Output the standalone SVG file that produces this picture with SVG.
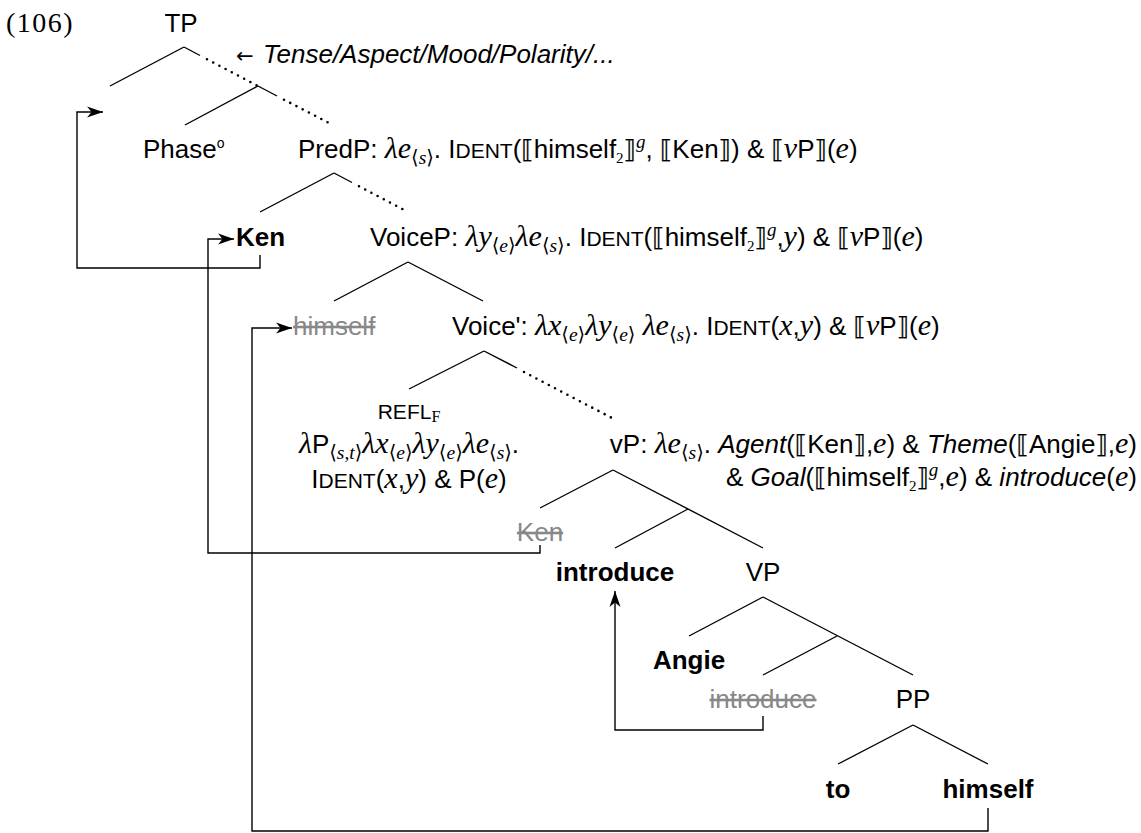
<svg xmlns="http://www.w3.org/2000/svg" width="1141" height="833" viewBox="0 0 1141 833">
<defs>
<style>
.t{font-family:"Liberation Sans",Arial,sans-serif;font-size:26px;fill:#000}
.b{font-weight:bold}
.i{font-style:italic}
.m{font-family:"Liberation Serif","DejaVu Serif","DejaVu Sans",serif;font-style:italic;font-size:30px}
.s{font-family:"Liberation Serif","DejaVu Serif","DejaVu Sans",serif;font-size:19.5px;font-style:normal}
.sm{font-style:italic}
.sup{font-size:19px}
.sc{font-size:21px}
.k{font-family:"DejaVu Sans","DejaVu Serif",sans-serif;font-size:25px;font-weight:normal;font-style:normal;fill:#000;stroke:#000;stroke-width:0.25}
.g{fill:#888;text-decoration:line-through}
.n{text-anchor:middle}
.e{text-anchor:end}
.l{stroke:#000;stroke-width:1.4;fill:none}
.d{stroke:#000;stroke-width:2.6;stroke-dasharray:0 7;stroke-linecap:round;fill:none}
.c{stroke:#000;stroke-width:1.4;fill:none;marker-end:url(#ah)}
</style>
<marker id="ah" viewBox="0 0 16 12" refX="16" refY="6" markerWidth="16" markerHeight="12" orient="auto" markerUnits="userSpaceOnUse"><path d="M0,0.5 L16,6 L0,11.5 L4.5,6 Z" fill="#000"/></marker>
</defs>

<text class="t" x="6" y="32" style="font-family:'Liberation Serif',serif;font-size:28px;letter-spacing:1.5px">(106)</text>

<g id="connectors">
<path class="l" d="M184,47 L110,86"/>
<path class="l" d="M184,47 L200,55.5"/>
<path class="d" d="M207,59.2 L258,86"/>
<path class="l" d="M258,86 L185,125"/>
<path class="l" d="M258,86 L277,96"/>
<path class="d" d="M284,99.7 L333,125"/>
<path class="l" d="M334,173 L260,212"/>
<path class="l" d="M334,173 L352,182.5"/>
<path class="d" d="M359,186.2 L408,212"/>
<path class="l" d="M408,262 L334,301"/>
<path class="l" d="M408,262 L483,301"/>
<path class="l" d="M484,351 L409,389"/>
<path class="l" d="M484,351 L517,368"/>
<path class="d" d="M524,372 L612,418"/>
<path class="l" d="M613,470 L540,508"/>
<path class="l" d="M613,470 L763,548"/>
<path class="l" d="M688,509 L615,548"/>
<path class="l" d="M763,597 L689,636"/>
<path class="l" d="M763,597 L913,675"/>
<path class="l" d="M837,636 L763,675"/>
<path class="l" d="M913,725 L838,764"/>
<path class="l" d="M913,725 L988,764"/>
<path class="c" d="M260,255 V268 H77 V112 H103"/>
<path class="c" d="M540,545 V553 H208 V239 H234"/>
<path class="c" d="M988,808 V831 H252 V328 H292"/>
<path class="c" d="M763,716 V730 H615 V591"/>
</g>

<g id="tp"><text class="t n" x="181" y="32">TP</text></g>

<g id="annotation"><text class="t" x="236" y="63" style="font-family:'DejaVu Sans',sans-serif;font-size:21px">←</text><text class="t i" x="263" y="63">Tense/Aspect/Mood/Polarity/...</text></g>

<g id="phase"><text class="t" x="143" y="158">Phase<tspan style="font-size:14px" dy="-10">o</tspan></text></g>

<g id="predp"><text class="t" x="298" y="158">PredP: <tspan class="m">λe</tspan><tspan class="s" dy="6">⟨<tspan class="sm">s</tspan>⟩</tspan><tspan dy="-6">. I</tspan><tspan class="sc">DENT</tspan>(<tspan class="k">⟦</tspan>himself<tspan class="s" style="font-size:15px" dy="5">2</tspan><tspan class="k" dy="-5">⟧</tspan><tspan class="m sup" dy="-10">g</tspan><tspan dy="10">, </tspan><tspan class="k">⟦</tspan>Ken<tspan class="k">⟧</tspan>) &amp; <tspan class="k">⟦</tspan><tspan class="m">ν</tspan>P<tspan class="k">⟧</tspan>(<tspan class="m">e</tspan>)</text></g>

<g id="ken"><text class="t b" x="236" y="246">Ken</text></g>

<g id="voicep"><text class="t" x="370" y="246">VoiceP: <tspan class="m">λy</tspan><tspan class="s" dy="6">⟨<tspan class="sm">e</tspan>⟩</tspan><tspan class="m" dy="-6">λe</tspan><tspan class="s" dy="6">⟨<tspan class="sm">s</tspan>⟩</tspan><tspan dy="-6">. I</tspan><tspan class="sc">DENT</tspan>(<tspan class="k">⟦</tspan>himself<tspan class="s" style="font-size:15px" dy="5">2</tspan><tspan class="k" dy="-5">⟧</tspan><tspan class="m sup" dy="-10">g</tspan><tspan dy="10">,</tspan><tspan class="m">y</tspan>) &amp; <tspan class="k">⟦</tspan><tspan class="m">ν</tspan>P<tspan class="k">⟧</tspan>(<tspan class="m">e</tspan>)</text></g>

<g id="himself-trace"><text class="t g" x="293" y="335">himself</text></g>

<g id="voicebar"><text class="t" x="452" y="335">Voice': <tspan class="m">λx</tspan><tspan class="s" dy="6">⟨<tspan class="sm">e</tspan>⟩</tspan><tspan class="m" dy="-6">λy</tspan><tspan class="s" dy="6">⟨<tspan class="sm">e</tspan>⟩</tspan><tspan dy="-6"> </tspan><tspan class="m">λe</tspan><tspan class="s" dy="6">⟨<tspan class="sm">s</tspan>⟩</tspan><tspan dy="-6">. I</tspan><tspan class="sc">DENT</tspan>(<tspan class="m">x</tspan>,<tspan class="m">y</tspan>) &amp; <tspan class="k">⟦</tspan><tspan class="m">ν</tspan>P<tspan class="k">⟧</tspan>(<tspan class="m">e</tspan>)</text></g>

<g id="refl">
<text class="t n" x="409" y="419"><tspan style="font-size:21px">REFL</tspan><tspan class="s" style="font-size:16px" dy="3">F</tspan></text>
<text class="t n" x="409" y="453"><tspan class="m">λ</tspan>P<tspan class="s" dy="6">⟨<tspan class="sm">s</tspan>,<tspan class="sm">t</tspan>⟩</tspan><tspan class="m" dy="-6">λx</tspan><tspan class="s" dy="6">⟨<tspan class="sm">e</tspan>⟩</tspan><tspan class="m" dy="-6">λy</tspan><tspan class="s" dy="6">⟨<tspan class="sm">e</tspan>⟩</tspan><tspan class="m" dy="-6">λe</tspan><tspan class="s" dy="6">⟨<tspan class="sm">s</tspan>⟩</tspan><tspan dy="-6">.</tspan></text>
<text class="t n" x="409" y="488">I<tspan class="sc">DENT</tspan>(<tspan class="m">x</tspan>,<tspan class="m">y</tspan>) &amp; P(<tspan class="m">e</tspan>)</text>
</g>

<g id="vp">
<text class="t e" x="1137" y="453">vP: <tspan class="m">λe</tspan><tspan class="s" dy="6">⟨<tspan class="sm">s</tspan>⟩</tspan><tspan dy="-6">. </tspan><tspan class="i">Agent</tspan>(<tspan class="k">⟦</tspan>Ken<tspan class="k">⟧</tspan>,<tspan class="m">e</tspan>) &amp; <tspan class="i">Theme</tspan>(<tspan class="k">⟦</tspan>Angie<tspan class="k">⟧</tspan>,<tspan class="m">e</tspan>)</text>
<text class="t e" x="1137" y="486">&amp; <tspan class="i">Goal</tspan>(<tspan class="k">⟦</tspan>himself<tspan class="s" style="font-size:15px" dy="5">2</tspan><tspan class="k" dy="-5">⟧</tspan><tspan class="m sup" dy="-10">g</tspan><tspan dy="10">,</tspan><tspan class="m">e</tspan>) &amp; <tspan class="i">introduce</tspan>(<tspan class="m">e</tspan>)</text>
</g>

<g id="ken-trace"><text class="t g n" x="540" y="541">Ken</text></g>
<g id="introduce"><text class="t b n" x="615" y="581">introduce</text></g>
<g id="vp-node"><text class="t n" x="763" y="581">VP</text></g>
<g id="angie"><text class="t b n" x="689" y="669">Angie</text></g>
<g id="introduce-trace"><text class="t g n" x="763" y="708">introduce</text></g>
<g id="pp"><text class="t n" x="913" y="708">PP</text></g>
<g id="to"><text class="t b n" x="838" y="798">to</text></g>
<g id="himself"><text class="t b n" x="988" y="798">himself</text></g>
</svg>
